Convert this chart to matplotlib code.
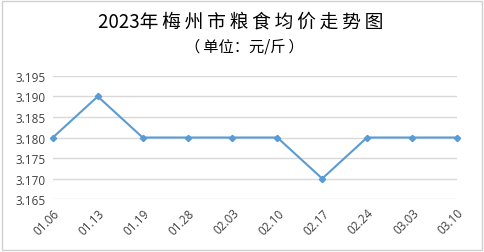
import matplotlib
matplotlib.use("Agg")
import matplotlib.pyplot as plt
from matplotlib.patches import Rectangle

plt.rcParams['font.family'] = ['Noto Sans CJK SC', 'DejaVu Sans']

# data
dates = ["01.06", "01.13", "01.19", "01.28", "02.03", "02.10", "02.17", "02.24", "03.03", "03.10"]
prices = [3.180, 3.190, 3.180, 3.180, 3.180, 3.180, 3.170, 3.180, 3.180, 3.180]
yticks = [3.165, 3.170, 3.175, 3.180, 3.185, 3.190, 3.195]
title = "2023年梅州市粮食均价走势图"
subtitle = "（单位：元/斤）"

fig = plt.figure(figsize=(4.85, 2.53), dpi=100)
ax = fig.add_axes([0.109, 0.209, 0.833, 0.487])

x = list(range(len(dates)))
ax.plot(x, prices, color="#5B9BD5", lw=1.5, marker="D", ms=3.2, clip_on=False, zorder=3)

ax.set_xlim(0, len(dates) - 1)
ax.set_ylim(3.165, 3.195)
ax.set_yticks(yticks)
ax.set_yticklabels(["%.3f" % v for v in yticks], fontsize=8.5, color="#404040",
                   family="Open Sans")
ax.set_xticks(x)
ax.set_xticklabels(dates, rotation=45, ha="right", rotation_mode="anchor",
                   fontsize=8.5, color="#404040", family="Open Sans")
ax.tick_params(length=0, pad=5)
ax.grid(axis="y", color="#D9D9D9", lw=1)
for s in ax.spines.values():
    s.set_visible(False)

# spaced-out title like the original
spaced = title[:4] + "\u2009".join(title[4:])
fig.text(0.497, 0.913, spaced, ha="center", va="center",
         fontsize=13.5, color="black", family=['Noto Sans CJK SC', 'DejaVu Sans'])
sub = subtitle[0] + "\u2009" + subtitle[1:-1] + "\u2009" + subtitle[-1]
fig.text(0.503, 0.814, sub, ha="center", va="center",
         fontsize=11, color="black", family=['Noto Sans CJK SC', 'DejaVu Sans'])

# outer border
fig.patches.append(Rectangle((0.004, 0.006), 0.99, 0.988, transform=fig.transFigure,
                             fill=False, ec="#D0D0D0", lw=1))

fig.savefig("out.png", dpi=100)
